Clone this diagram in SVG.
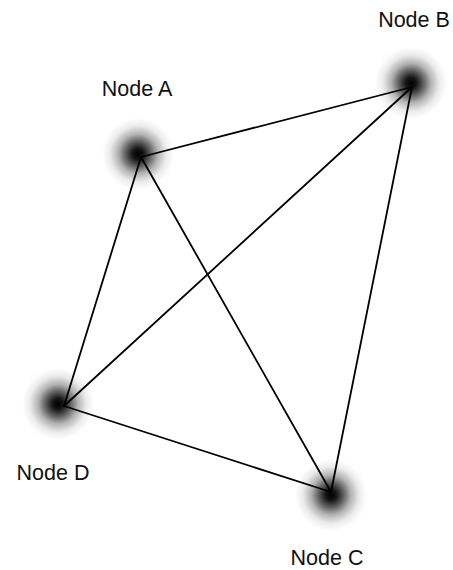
<svg xmlns="http://www.w3.org/2000/svg" width="453" height="570" viewBox="0 0 453 570">
  <style>
    .edge { stroke: #000; stroke-width: 1.8; fill: none; stroke-linecap: round; }
    .label { font-family: "Liberation Sans", Arial, sans-serif; font-size: 21.5px; fill: #111; text-anchor: middle; }
    .blob { fill: url(#glow); }
  </style>
  <defs>
    <radialGradient id="glow">
      <stop offset="0" stop-color="#000" stop-opacity="1"/>
      <stop offset="0.15" stop-color="#000" stop-opacity="0.92"/>
      <stop offset="0.35" stop-color="#000" stop-opacity="0.62"/>
      <stop offset="0.55" stop-color="#000" stop-opacity="0.3"/>
      <stop offset="0.78" stop-color="#000" stop-opacity="0.08"/>
      <stop offset="1" stop-color="#000" stop-opacity="0"/>
    </radialGradient>
  </defs>
  <rect width="453" height="570" fill="#fff"/>
  <g id="node-a">
    <circle class="blob" cx="138" cy="154" r="36"/>
    <text class="label" x="137" y="96">Node A</text>
  </g>
  <g id="node-b">
    <circle class="blob" cx="411" cy="83" r="36"/>
    <text class="label" x="414" y="27">Node B</text>
  </g>
  <g id="node-c">
    <circle class="blob" cx="331" cy="495" r="36"/>
    <text class="label" x="327" y="565">Node C</text>
  </g>
  <g id="node-d">
    <circle class="blob" cx="58" cy="404" r="36"/>
    <text class="label" x="53" y="480">Node D</text>
  </g>
  <g id="connectors">
    <line class="edge" x1="141" y1="157" x2="412" y2="87"/>
    <line class="edge" x1="141" y1="157" x2="64" y2="406"/>
    <line class="edge" x1="141" y1="157" x2="331" y2="492"/>
    <line class="edge" x1="412" y1="87" x2="64" y2="406"/>
    <line class="edge" x1="412" y1="87" x2="331" y2="492"/>
    <line class="edge" x1="64" y1="406" x2="331" y2="492"/>
  </g>
</svg>
